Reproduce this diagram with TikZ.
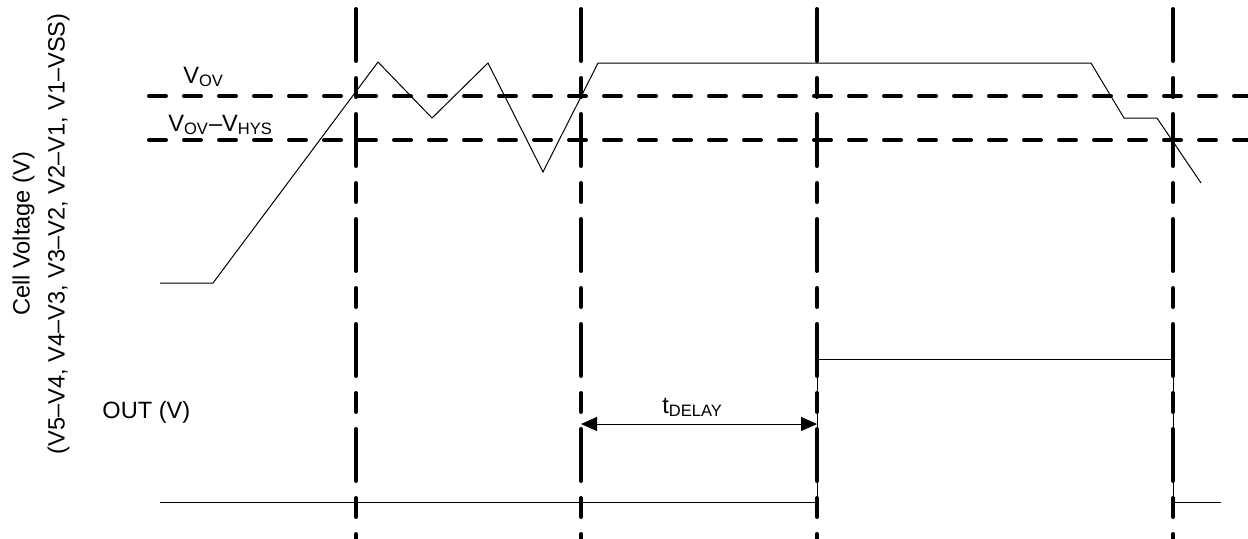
\documentclass[tikz,border=0pt]{standalone}
\usepackage{fontspec}
\setmainfont{Liberation Sans}
\usepackage{tikz}
\usetikzlibrary{arrows.meta}
\usetikzlibrary{positioning}
\tikzstyle{thresh}=[line width=2pt,line cap=round,dash pattern=on 8.5pt off 9pt]
\tikzstyle{marker}=[line width=2pt,line cap=round,dash pattern=on 26pt off 8.5pt on 9.5pt off 8.5pt]
\tikzstyle{wave}=[line width=0.5pt]
\tikzstyle{dim}=[line width=0.5pt,{Triangle[length=8pt,width=7pt]}-{Triangle[length=8pt,width=7pt]}]
\tikzstyle{lbl}=[anchor=base west,inner sep=0pt]

\begin{document}
\begin{tikzpicture}[x=0.5pt,y=-0.5pt,font=\fontsize{11.8}{17.5}\selectfont]
\useasboundingbox (0,0) rectangle (1248,538);
% cell voltage and output
\draw[wave] (160,283) -- (213,283) -- (378,62) -- (432,118) -- (488,63) -- (543,172)
  -- (598,63) -- (1091,63) -- (1124,118) -- (1157,118) -- (1201,183);
\draw[wave] (160,502) -- (817,502) -- (817,359) -- (1173,359) -- (1173,502) -- (1221,502);
% thresholds
\coordinate (ovl) at (149,96);   \coordinate (ovr) at (1250,96);
\coordinate (hyl) at (149,140);  \coordinate (hyr) at (1250,140);
\draw[thresh] (ovl) -- (ovr);
\draw[thresh] (hyl) -- (hyr);
% time markers
\foreach \n/\x in {ta/356,tb/581,tc/817,td/1173}{
  \coordinate (\n top) at (\x,9);
  \coordinate (\n bot) at (\x,540);
  \draw[marker] (\n top) -- (\n bot);
}
\coordinate (dl) at (581,424);
\coordinate (dr) at (817,424);
\draw[dim] (dl) -- (dr);
% labels
\node[lbl] (vov) at (183,83) {V\textsubscript{OV}};
\node[lbl] (vhys) at (168,131) {V\textsubscript{OV}--V\textsubscript{HYS}};
\node[lbl] (outv) at (102,418) {OUT (V)};
\node[lbl] (tdelay) at (662,413) {t\textsubscript{DELAY}};
\node[rotate=90,align=center,inner sep=0pt] (cellv) at (41,234)
  {Cell Voltage (V)\\(V5--V4, V4--V3, V3--V2, V2--V1, V1--VSS)};
\end{tikzpicture}
\end{document}
